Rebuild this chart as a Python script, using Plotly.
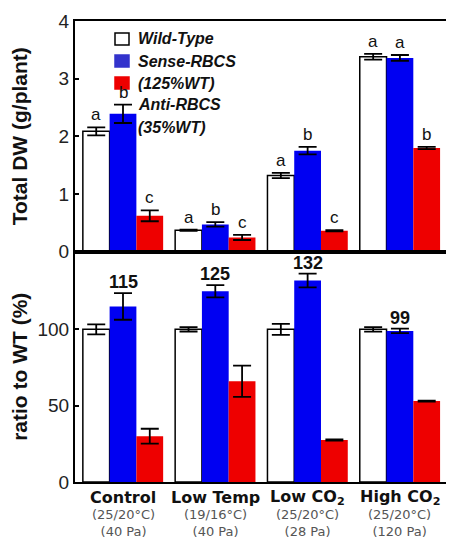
import plotly.graph_objects as go

categories = ["Control", "Low Temp", "Low CO2", "High CO2"]
cat_labels = ["Control", "Low Temp", "Low CO<sub>2</sub>", "High CO<sub>2</sub>"]
cond_temp = ["(25/20°C)", "(19/16°C)", "(25/20°C)", "(25/20°C)"]
cond_co2 = ["(40 Pa)", "(40 Pa)", "(28 Pa)", "(120 Pa)"]

series_names = ["Wild-Type", "Sense-RBCS", "Anti-RBCS"]

dw_wt = [2.085, 0.37, 1.32, 3.38]
dw_wt_err = [0.07, 0.01, 0.045, 0.05]
dw_sense = [2.39, 0.47, 1.75, 3.36]
dw_sense_err = [0.16, 0.04, 0.065, 0.05]
dw_anti = [0.62, 0.245, 0.36, 1.795]
dw_anti_err = [0.095, 0.045, 0.01, 0.02]

dw_wt_letters = ["a", "a", "a", "a"]
dw_sense_letters = ["b", "b", "b", "a"]
dw_anti_letters = ["c", "c", "c", "b"]

ratio_wt = [100, 100, 100, 100]
ratio_wt_err = [3.3, 1.4, 3.6, 1.5]
ratio_sense = [115, 125, 132, 99]
ratio_sense_err = [8.7, 4, 4.5, 1.5]
ratio_anti = [30, 66, 27.5, 53]
ratio_anti_err = [4.9, 10.3, 0.4, 0.3]
ratio_sense_labels = ["115", "125", "132", "99"]

colors = ["#FFFFFF", "#0000F2", "#EE0000"]
outlines = ["#000000", "#0000F2", "#EE0000"]

FONT = "Liberation Sans, Arial, sans-serif"
WIDE = "DejaVu Sans, sans-serif"
BARGAP = 0.13

fig = go.Figure()

top = [(dw_wt, dw_wt_err), (dw_sense, dw_sense_err), (dw_anti, dw_anti_err)]
bottom = [(ratio_wt, ratio_wt_err), (ratio_sense, ratio_sense_err), (ratio_anti, ratio_anti_err)]
xs = list(range(len(categories)))

for i, (vals, errs) in enumerate(top):
    fig.add_trace(go.Bar(
        x=xs, y=vals, name=series_names[i], xaxis="x", yaxis="y",
        marker=dict(color=colors[i], line=dict(color=outlines[i], width=1.5 if i == 0 else 0)),
        error_y=dict(type="data", array=errs, color="black", thickness=1.8, width=9),
        showlegend=False, hoverinfo="skip"))
for i, (vals, errs) in enumerate(bottom):
    fig.add_trace(go.Bar(
        x=xs, y=vals, name=series_names[i], xaxis="x2", yaxis="y2",
        marker=dict(color=colors[i], line=dict(color=outlines[i], width=1.5 if i == 0 else 0)),
        error_y=dict(type="data", array=errs, color="black", thickness=1.8, width=9),
        showlegend=False, hoverinfo="skip"))

annotations = []
slot = (1 - BARGAP) / 3
letter_sets = [dw_wt_letters, dw_sense_letters, dw_anti_letters]
for s, (vals, errs) in enumerate(top):
    for c in xs:
        annotations.append(dict(
            x=c + (s - 1) * slot, y=vals[c] + errs[c], xref="x", yref="y",
            text=letter_sets[s][c], showarrow=False, yanchor="bottom", yshift=1,
            font=dict(family=FONT, size=17, color="#111")))
for c in xs:
    annotations.append(dict(
        x=c, y=ratio_sense[c] + ratio_sense_err[c], xref="x2", yref="y2",
        text="<b>" + ratio_sense_labels[c] + "</b>", showarrow=False,
        yanchor="bottom", yshift=-1,
        font=dict(family=FONT, size=18, color="#111")))

# category labels below the lower panel
for c in xs:
    annotations.append(dict(x=c, y=0, xref="x2", yref="paper", text="<b>" + cat_labels[c] + "</b>",
                            showarrow=False, yanchor="middle", yshift=-15,
                            font=dict(family=WIDE, size=16, color="#111")))
    annotations.append(dict(x=c, y=0, xref="x2", yref="paper",
                            text=cond_temp[c] + "<br>" + cond_co2[c],
                            showarrow=False, yanchor="middle", yshift=-41,
                            font=dict(family=WIDE, size=13, color="#555")))

# custom legend (paper coordinates, from reference pixel positions)
def px_x(p):
    return (p - 75) / 378.0
def px_y(p):
    return (482 - p) / 461.0

legend_lines = ["Wild-Type", "Sense-RBCS", "(125%WT)", "Anti-RBCS", "(35%WT)"]
line_y = [39, 61, 83, 105, 127]
for t, yy in zip(legend_lines, line_y):
    annotations.append(dict(
        x=px_x(136), y=px_y(yy), xref="paper", yref="paper", text="<b><i>" + t + "</i></b>",
        showarrow=False, xanchor="left", yanchor="middle",
        font=dict(family=FONT, size=16, color="#111")))
shapes = []
box_colors = ["#FFFFFF", "#3333CC", "#EE0000"]
box_lines = ["#000000", "#3333CC", "#EE0000"]
for k in range(3):
    yy = line_y[k]
    shapes.append(dict(type="rect", xref="paper", yref="paper",
                       x0=px_x(115), x1=px_x(129), y0=px_y(yy + 6), y1=px_y(yy - 6),
                       fillcolor=box_colors[k], line=dict(color=box_lines[k], width=1.5)))

axis_common = dict(showline=True, linecolor="black", linewidth=2, mirror=True,
                   showgrid=False, zeroline=False, automargin=False)

# the page body has an 8px default margin, so the figure is 8px smaller
fig.update_layout(
    width=446, height=530,
    margin=dict(l=67, r=1, t=13, b=56),
    paper_bgcolor="white", plot_bgcolor="white",
    barmode="group", bargap=BARGAP, bargroupgap=0,
    font=dict(family=FONT, color="#222"),
    xaxis=dict(domain=[0, 1], anchor="y", range=[-0.52, 3.575], showticklabels=False,
               ticks="", **axis_common),
    yaxis=dict(domain=[0.5, 1], anchor="x", range=[0, 4], tickvals=[0, 1, 2, 3, 4],
               ticks="inside", ticklen=4, tickwidth=1.5, tickcolor="black",
               tickfont=dict(size=19, family=FONT, color="#222"),
               title=dict(text="<b>Total DW (g/plant)</b>", font=dict(size=21, family=FONT, color="#111"),
                          standoff=30),
               **axis_common),
    yaxis3=dict(overlaying="y", side="right", anchor="x", range=[0, 3.466], tickvals=[1, 2, 3],
                ticks="inside", ticklen=4, tickwidth=1.5, tickcolor="black",
                showticklabels=False, showgrid=False, zeroline=False, showline=False,
                automargin=False),
    xaxis2=dict(domain=[0, 1], anchor="y2", range=[-0.52, 3.575], tickvals=xs,
                showticklabels=False, ticks="", **axis_common),
    yaxis2=dict(domain=[0, 0.5], anchor="x2", range=[0, 151], tickvals=[0, 50, 100],
                ticks="inside", ticklen=4, tickwidth=1.5, tickcolor="black",
                tickfont=dict(size=19, family=FONT, color="#222"),
                title=dict(text="<b>ratio to WT (%)</b>", font=dict(size=21, family=FONT, color="#111"),
                           standoff=10),
                showline=True, linecolor="black", linewidth=2, mirror="ticks",
                showgrid=False, zeroline=False, automargin=False),
    annotations=annotations,
    shapes=shapes,
)

fig.write_html("out.html")
